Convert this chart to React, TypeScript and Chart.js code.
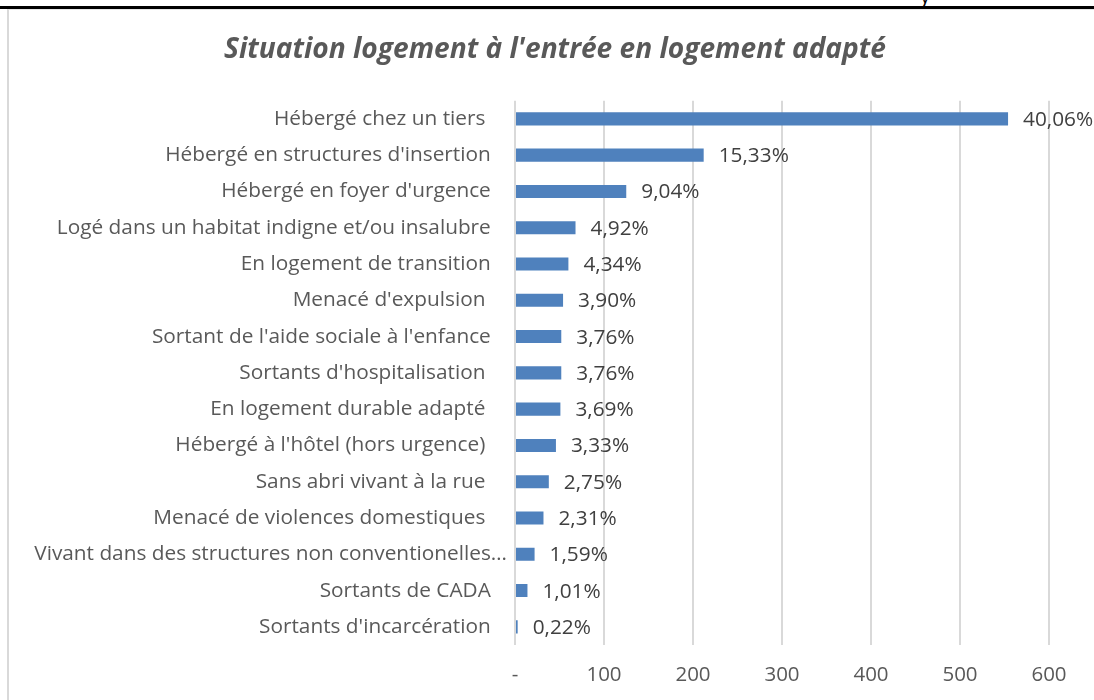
import React, { useEffect, useRef } from "react";
import { Chart, registerables } from "chart.js";

Chart.register(...registerables);

const TITLE = "Situation logement à l'entrée en logement adapté";

const categories: string[] = [
  "Hébergé chez un tiers ",
  "Hébergé en structures d'insertion",
  "Hébergé en foyer d'urgence",
  "Logé dans un habitat indigne et/ou insalubre",
  "En logement de transition",
  "Menacé d'expulsion ",
  "Sortant de l'aide sociale à l'enfance",
  "Sortants d'hospitalisation ",
  "En logement durable adapté ",
  "Hébergé à l'hôtel (hors urgence) ",
  "Sans abri vivant à la rue ",
  "Menacé de violences domestiques ",
  "Vivant dans des structures non conventionelles…",
  "Sortants de CADA",
  "Sortants d'incarcération",
];

const counts: number[] = [554, 212, 125, 68, 60, 54, 52, 52, 51, 46, 38, 32, 22, 14, 3];

const percentLabels: string[] = [
  "40,06%", "15,33%", "9,04%", "4,92%", "4,34%", "3,90%", "3,76%", "3,76%",
  "3,69%", "3,33%", "2,75%", "2,31%", "1,59%", "1,01%", "0,22%",
];

const xTicks: number[] = [0, 100, 200, 300, 400, 500, 600];

const FONT = "'Open Sans', Lato, sans-serif";

const valueLabelPlugin = {
  id: "valueLabels",
  afterDatasetsDraw(chart: any) {
    const ctx = chart.ctx;
    const meta = chart.getDatasetMeta(0);
    ctx.save();
    ctx.font = `20.8px ${FONT}`;
    ctx.fillStyle = "#404040";
    ctx.textAlign = "left";
    ctx.textBaseline = "middle";
    meta.data.forEach((bar: any, i: number) => {
      ctx.fillText(percentLabels[i], bar.x + 15, bar.y + 1);
    });
    ctx.restore();
  },
};

// let the category labels extend into the left padding without being clipped
const unclipPlugin = {
  id: "unclipYLabels",
  afterLayout(chart: any) {
    if (chart.scales.y) chart.scales.y.left = 0;
  },
};

export default function App() {
  const ref = useRef<HTMLCanvasElement | null>(null);

  useEffect(() => {
    if (!ref.current) return;
    const chart = new Chart(ref.current, {
      type: "bar",
      data: {
        labels: categories,
        datasets: [
          {
            data: counts,
            backgroundColor: "#4F81BD",
            borderWidth: 0,
            categoryPercentage: 0.6,
            barPercentage: 0.6,
          },
        ],
      },
      options: {
        indexAxis: "y",
        animation: false,
        responsive: false,
        maintainAspectRatio: false,
        layout: { padding: { top: 0, right: 52, bottom: 0, left: 52 } },
        plugins: {
          legend: { display: false },
          tooltip: { enabled: false },
          title: {
            display: true,
            text: TITLE,
            color: "#595959",
            font: { family: FONT, size: 28.1, weight: "bold", style: "italic" },
            padding: { top: 23, bottom: 34 },
          },
        },
        scales: {
          x: {
            min: 0,
            max: 600,
            afterBuildTicks(scale: any) {
              scale.ticks = xTicks.map((v) => ({ value: v }));
            },
            afterFit(scale: any) {
              scale.height = 55;
            },
            grid: { color: "#d9d9d9", lineWidth: 2, drawTicks: false },
            border: { display: false },
            ticks: {
              color: "#595959",
              font: { family: FONT, size: 20.5 },
              padding: 18,
              maxRotation: 0,
              callback: (v: any) => (Number(v) === 0 ? "-" : String(v)),
            },
          },
          y: {
            afterFit(scale: any) {
              scale.width = 454;
            },
            grid: { display: false, drawTicks: false },
            border: { display: false },
            ticks: {
              color: "#595959",
              font: { family: FONT, size: 20.8 },
              padding: 8,
              autoSkip: false,
              callback: (_v: any, i: number) => {
                const label = categories[i];
                return label.endsWith("…") ? label : label + "   ";
              },
            },
          },
        },
      },
      plugins: [valueLabelPlugin, unclipPlugin],
    });
    return () => chart.destroy();
  }, []);

  return (
    <div
      style={{
        position: "fixed",
        left: 0,
        top: 0,
        width: 1094,
        height: 700,
        overflow: "hidden",
        background: "#ffffff",
      }}
    >
      <span
        style={{
          position: "absolute",
          left: 920,
          top: -18,
          fontFamily: FONT,
          fontSize: 20,
          color: "#000",
        }}
      >
        y
      </span>
      <div style={{ position: "absolute", left: 0, top: 6, width: 1094, height: 3, background: "#000" }} />
      <div
        style={{
          position: "absolute",
          left: 7,
          top: 9,
          width: 1200,
          height: 800,
          borderLeft: "2px solid #d9d9d9",
          borderTop: "1px solid #e6e6e6",
        }}
      />
      <canvas
        ref={ref}
        width={1092}
        height={690}
        style={{ position: "absolute", left: 9, top: 10, width: 1092, height: 690 }}
      />
    </div>
  );
}
